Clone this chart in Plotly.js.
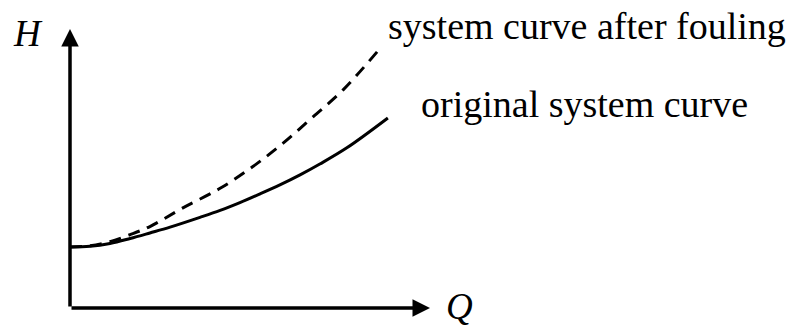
<!DOCTYPE html>
<html>
<head>
<meta charset="utf-8">
<script src="https://cdn.plot.ly/plotly-3.0.1.min.js"></script>
<style>
  html, body { margin: 0; padding: 0; background: #fff; }
  #chart { width: 791px; height: 330px; }
</style>
</head>
<body>
<div id="chart"></div>
<script>
// values (arbitrary units, Q and H both 0..10 on the axes)
const originalQ = [0, 0.56, 1.11, 1.67, 2.22, 2.78, 3.61, 4.17, 4.72, 5.28, 5.83, 6.39, 6.94, 7.69, 8.83];
const originalH = [2.19, 2.21, 2.31, 2.49, 2.69, 2.90, 3.25, 3.50, 3.78, 4.09, 4.41, 4.77, 5.16, 5.74, 6.81];

const fouledQ = [0, 0.56, 1.11, 1.67, 2.22, 3.11, 4.17, 5.08, 5.92, 6.75, 7.58, 8.53];
const fouledH = [2.19, 2.23, 2.38, 2.63, 2.92, 3.57, 4.29, 5.07, 5.91, 6.85, 7.81, 9.18];

const qMax = 10;
const hMax = 10;

const serif = "Liberation Serif, Times New Roman, serif";

const traces = [
  {
    x: originalQ, y: originalH,
    type: "scatter", mode: "lines",
    line: { color: "#000", width: 3, shape: "spline", smoothing: 1 },
    hoverinfo: "skip"
  },
  {
    x: fouledQ, y: fouledH,
    type: "scatter", mode: "lines",
    line: { color: "#000", width: 3, dash: "12px,8px", shape: "spline", smoothing: 1 },
    hoverinfo: "skip"
  }
];

// axis arrows
function axisArrow(x, y) {
  return {
    x: x, y: y, ax: 0, ay: 0,
    xref: "x", yref: "y", axref: "x", ayref: "y",
    text: "", showarrow: true,
    arrowhead: 2, arrowsize: 1, arrowwidth: 3.5, arrowcolor: "#000"
  };
}

// labels sit outside the plot area, so they use paper coordinates
function label(text, x, y, size, italic) {
  return {
    x: x, y: y, xref: "paper", yref: "paper",
    text: text, showarrow: false,
    xanchor: "left", yanchor: "middle",
    font: { family: serif, size: size, color: "#000", style: italic ? "italic" : "normal" }
  };
}

const layout = {
  width: 791,
  height: 330,
  margin: { l: 70, r: 361, t: 29, b: 22 },
  paper_bgcolor: "#fff",
  plot_bgcolor: "#fff",
  showlegend: false,
  xaxis: { range: [0, qMax], visible: false, fixedrange: true },
  yaxis: { range: [0, hMax], visible: false, fixedrange: true },
  annotations: [
    axisArrow(qMax, 0),
    axisArrow(0, hMax),
    label("H", -0.163, 0.985, 37, true),
    label("Q", 1.04, 0.005, 37, true),
    label("system curve after fouling", 0.878, 1.011, 38, false),
    label("original system curve", 0.969, 0.73, 38, false)
  ]
};

Plotly.newPlot("chart", traces, layout, { staticPlot: true, displayModeBar: false });
</script>
</body>
</html>
